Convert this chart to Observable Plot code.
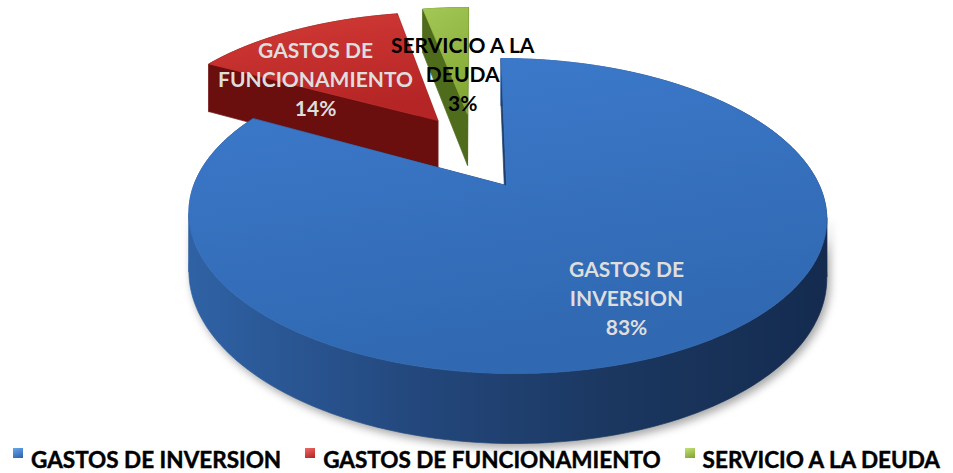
<!DOCTYPE html>
<html><head><meta charset="utf-8">
<script src="https://cdn.jsdelivr.net/npm/d3@7"></script>
<script src="https://cdn.jsdelivr.net/npm/@observablehq/plot@0.6"></script>
<style>
body{margin:0;background:#fff;font-family:Lato,"Open Sans",sans-serif;}
#chart svg{display:block;}
#legend{display:flex;justify-content:center;align-items:center;height:28px;width:953px;font-weight:700;font-size:22.5px;color:#000;font-family:Lato,sans-serif;white-space:nowrap;-webkit-text-stroke:0.45px #000;}
#legend .item{display:flex;align-items:center;margin:0 12px;}
#legend .sw{width:10px;height:10px;margin-right:8px;position:relative;top:-6px;-webkit-text-stroke:0;}
</style></head><body>
<div id="chart"></div>
<div id="legend"></div>
<script>
// ---- data ----
const categories = ["GASTOS DE INVERSION", "GASTOS DE FUNCIONAMIENTO", "SERVICIO A LA DEUDA"];
const labelLines = ["GASTOS DE\nINVERSION", "GASTOS DE\nFUNCIONAMIENTO", "SERVICIO A LA\nDEUDA"];
const values = [83, 14, 3];
const percentLabels = ["83%", "14%", "3%"];

// ---- layout / style (not data) ----
const W = 953, H = 445;
const CAM = {explodeX: 0.21, explodeZ: 0.28, persp: 0.185, tilt: 0.4630, depth: 0.1804, x0: -1.5811, y0: -0.5022, unit: 298.9};
const LABEL = {r: [0.72, 0.58, 0.35], shift: [4, -16.5, 2.3], fill: ["#dedede", "#dedede", "#000"]};
const GRAD = [
  {top: ["#3d7bcd", "#3068b1"], side: ["#2f62a5", "#24497f", "#1b3760", "#142b4f"], edge: "#1e3f6e"},
  {top: ["#d23a36", "#b52525"], side: ["#7a1414", "#6a0e0e", "#5e0909", "#560707"], edge: "#6a0e0e"},
  {top: ["#a3c855", "#85a935"], side: ["#5a7a22", "#4f6c1c", "#465f17", "#3e5513"], edge: "#4f6c1c"}
];
const swatch = [["#6aa6ec", "#2b61aa"], ["#ee6a66", "#b32222"], ["#c4e27a", "#7fa12f"]];

// ---- geometry through d3.pie ----
const arcs = d3.pie().sort(null)(values);
function proj(x, z, h) {
  const w = 1 - CAM.persp * z;
  return {x: x / w, y: (z * CAM.tilt + h) / w};
}
const slices = arcs.map((a, i) => {
  const mid = (a.startAngle + a.endAngle) / 2;
  return {i, a0: a.startAngle, a1: a.endAngle, mid,
    ox: CAM.explodeX * Math.sin(mid), oz: -CAM.explodeZ * Math.cos(mid)};
});
function pt(s, ang, r, h) {
  return proj(s.ox + r * Math.sin(ang), s.oz - r * Math.cos(ang), h);
}

const marks = [];
const tags = [];
function face(pts, fill, tag) {
  marks.push(Plot.line(pts, {x: "x", y: "y", curve: "linear-closed", fill, stroke: fill, strokeWidth: 0.7}));
  tags.push(tag);
}

// draw back-to-front
const order = slices.slice().sort((a, b) => a.oz - b.oz);
for (const s of order) {
  const D = CAM.depth;
  const n = Math.max(2, Math.ceil((s.a1 - s.a0) / (Math.PI / 180)));
  const angs = d3.range(n + 1).map(k => s.a0 + (s.a1 - s.a0) * k / n);
  const topArc = angs.map(a => pt(s, a, 1, 0));
  const botArc = angs.map(a => pt(s, a, 1, D));
  const A = pt(s, 0, 0, 0), Ab = pt(s, 0, 0, D);
  const groups = [];
  for (let k = 0; k < n; k++) {
    const front = topArc[k + 1].x < topArc[k].x;
    const g = groups[groups.length - 1];
    if (g && g.front === front) g.end = k + 1; else groups.push({front, start: k, end: k + 1});
  }
  const startVis = topArc[0].x < A.x;
  const endVis = topArc[n].x > A.x;
  const startFace = [A, topArc[0], botArc[0], Ab];
  const endFace = [topArc[n], A, Ab, botArc[n]];
  const sideFill = `url(#side${s.i})`;
  if (!startVis) face(startFace, GRAD[s.i].edge, "back");
  if (!endVis) face(endFace, GRAD[s.i].edge, "back");
  for (const g of groups.filter(g => !g.front)) {
    face(topArc.slice(g.start, g.end + 1).concat(botArc.slice(g.start, g.end + 1).reverse()), sideFill, "back");
  }
  for (const g of groups.filter(g => g.front)) {
    face(topArc.slice(g.start, g.end + 1).concat(botArc.slice(g.start, g.end + 1).reverse()), sideFill, s.i === 0 ? "shadow" : "front");
  }
  if (startVis) face(startFace, GRAD[s.i].edge, "front");
  if (endVis) face(endFace, GRAD[s.i].edge, "front");
  face([A].concat(topArc), `url(#top${s.i})`, "top");
}

// labels
slices.forEach(s => {
  const p = pt(s, s.mid + LABEL.shift[s.i] * Math.PI / 180, LABEL.r[s.i], 0);
  marks.push(Plot.text([{x: p.x, y: p.y, t: labelLines[s.i] + "\n" + percentLabels[s.i]}], {
    x: "x", y: "y", text: "t", fill: LABEL.fill[s.i], fontSize: 21, fontWeight: "bold",
    fontFamily: "Lato, 'Open Sans', sans-serif", lineHeight: 1.38, textAnchor: "middle"
  }));
  tags.push("text");
});

const svg = Plot.plot({
  width: W, height: H, margin: 0,
  x: {domain: [CAM.x0, CAM.x0 + W / CAM.unit], range: [0, W], axis: null},
  y: {domain: [CAM.y0, CAM.y0 + H / CAM.unit], range: [0, H], axis: null},
  style: {background: "#fff", overflow: "visible"},
  marks
});

// gradients
const defs = d3.select(svg).insert("defs", ":first-child");
GRAD.forEach((g, i) => {
  const t = defs.append("linearGradient").attr("id", `top${i}`).attr("x1", 0).attr("y1", 0).attr("x2", 0.3).attr("y2", 1);
  t.append("stop").attr("offset", 0).attr("stop-color", g.top[0]);
  t.append("stop").attr("offset", 1).attr("stop-color", g.top[1]);
  const sd = defs.append("linearGradient").attr("id", `side${i}`).attr("x1", 0).attr("y1", 0).attr("x2", 1).attr("y2", 0);
  g.side.forEach((c, k) => sd.append("stop").attr("offset", k / (g.side.length - 1)).attr("stop-color", c));
});
const groupsEl = svg.querySelectorAll(':scope > g[aria-label="line"], :scope > g[aria-label="text"]');
groupsEl.forEach((el, k) => {
  if (tags[k] === "shadow") el.style.filter = "drop-shadow(3px 4px 4px rgba(0,0,0,0.35))";
});
document.getElementById("chart").appendChild(svg);

// legend
const leg = d3.select("#legend");
categories.forEach((c, i) => {
  const it = leg.append("div").attr("class", "item");
  it.append("div").attr("class", "sw").style("background", `linear-gradient(160deg, ${swatch[i][0]}, ${swatch[i][1]})`);
  it.append("span").text(c);
});
</script></body></html>
